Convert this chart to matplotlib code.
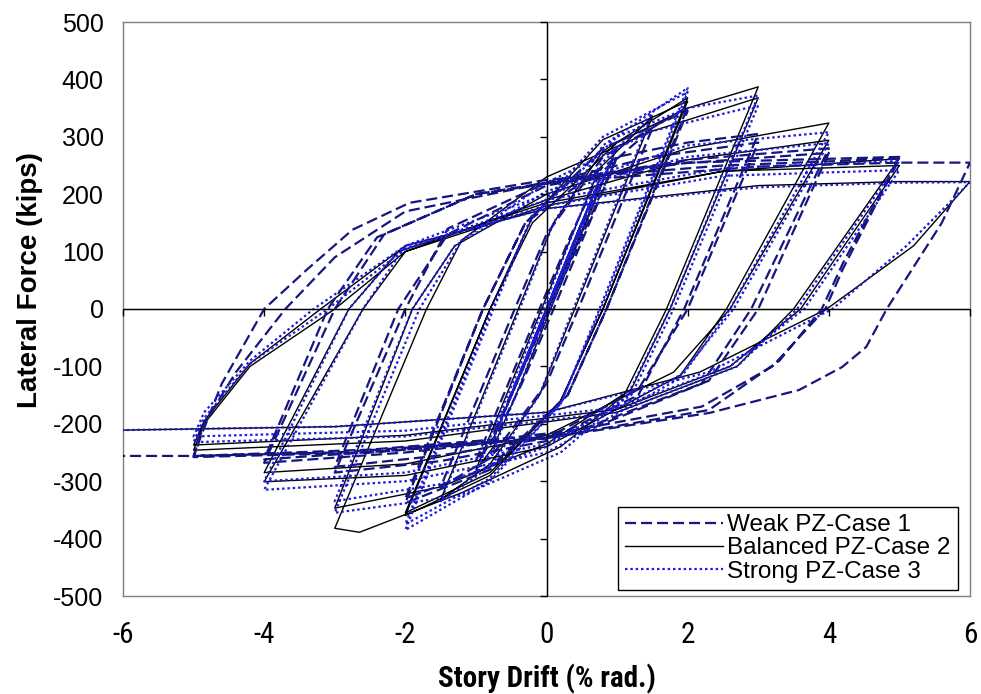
import matplotlib
matplotlib.use("Agg")
import matplotlib.pyplot as plt
from matplotlib import font_manager

# ---------------- data (story drift %, lateral force kips) ----------------
weak_loop = [
    (0, 0), (0.5, 150), (-0.5, -150), (0.75, 220), (-0.75, -220),
    (1.0, 265), (0.1, 0), (-0.35, -130), (-0.75, -230), (-1.0, -265), (-0.1, 0), (0.35, 130), (0.75, 235),
    (1.5, 315), (0.45, 0), (0.0, -130), (-0.8, -260), (-1.5, -310), (-0.45, 0), (0.0, 130), (0.8, 265),
    (2.0, 352), (0.85, 0), (0.3, -150), (-0.8, -280), (-2.0, -338), (-0.9, 0), (-0.3, 150), (0.8, 280),
    (2.0, 345), (0.85, 0), (0.3, -150), (-0.8, -275), (-2.0, -330), (-0.9, 0), (-0.3, 150), (1.0, 265), (2.0, 290),
    (3.0, 305), (1.95, 0), (1.3, -150), (0.0, -230), (-1.5, -265), (-3.0, -285), (-2.0, 0), (-1.4, 140),
    (0.0, 220), (1.5, 265), (3.0, 290), (2.0, 0), (1.3, -140), (0.0, -225), (-1.5, -255), (-3.0, -275),
    (-2.1, 0), (-1.4, 130), (0.0, 215), (2.0, 260),
    (4.0, 280), (2.9, 0), (2.2, -130), (0.5, -215), (-2.0, -250), (-4.0, -268), (-3.0, 0), (-2.3, 130),
    (-1.0, 200), (1.5, 250), (4.0, 272), (3.0, 0), (2.3, -125), (0.5, -210), (-2.0, -245), (-4.0, -262),
    (-3.1, 0), (-2.4, 125), (-1.0, 200), (2.0, 255),
    (5.0, 265), (4.2, 80), (3.9, 0), (3.3, -90), (2.3, -176), (0.0, -225), (-2.5, -250), (-5.0, -258),
    (-4.9, -223), (-4.6, -130), (-4.0, 0), (-3.4, 68), (-2.75, 138), (-1.94, 185), (0.0, 225), (2.5, 250),
    (5.0, 262), (4.2, 70), (3.95, 0), (3.2, -100), (2.2, -170), (0.0, -220), (-2.5, -245), (-5.0, -256),
    (-4.85, -200), (-4.4, -110), (-3.7, 0), (-3.0, 90), (-2.0, 170), (0.0, 220), (3.0, 248), (5.0, 255),
    (6.0, 255), (5.6, 150), (4.82, 0), (4.53, -66), (4.19, -101), (3.58, -141), (2.31, -181), (0.0, -225),
    (-3.0, -250), (-5.0, -256), (-6.0, -256),
]

balanced_loop = [
    (0, 0), (0.5, 150), (-0.5, -150), (0.75, 225), (-0.75, -225),
    (1.0, 282), (0.06, 0), (-0.4, -140), (-0.75, -240), (-1.0, -280), (-0.07, 0), (0.4, 140), (0.75, 245),
    (1.5, 335), (0.4, 0), (-0.1, -150), (-0.8, -270), (-1.5, -332), (-0.4, 0), (0.1, 150), (0.8, 275),
    (2.0, 368), (0.8, 0), (0.2, -160), (-0.8, -290), (-2.0, -360), (-0.8, 0), (-0.2, 160), (0.8, 295),
    (2.0, 362), (0.8, 0), (0.2, -160), (-0.8, -285), (-2.0, -355), (-0.8, 0), (-0.2, 150), (1.0, 290), (2.0, 350),
    (3.0, 387), (1.7, 0), (1.1, -150), (0.2, -240), (-1.2, -320), (-2.65, -389), (-3.0, -382), (-1.7, 0),
    (-1.2, 120), (0.0, 230), (1.5, 310), (3.0, 368), (1.75, 0), (1.2, -140), (0.0, -235), (-1.5, -310),
    (-3.0, -347), (-1.9, 0), (-1.3, 110), (0.0, 200), (2.0, 280),
    (4.0, 324), (2.55, 0), (1.9, -115), (0.0, -240), (-2.0, -290), (-4.0, -301), (-2.6, 0), (-2.0, 100),
    (0.0, 190), (2.0, 260), (4.0, 294), (2.6, 0), (1.8, -110), (0.0, -220), (-2.0, -270), (-4.0, -285),
    (-2.8, 0), (-2.1, 100), (0.0, 185), (2.5, 240),
    (5.0, 262), (3.5, 0), (2.7, -100), (1.0, -180), (-2.0, -230), (-5.0, -246), (-4.85, -200), (-4.2, -100),
    (-3.0, 0), (-2.0, 100), (0.0, 180), (2.5, 240), (5.0, 250), (3.6, 0), (2.6, -100), (1.0, -175),
    (-2.0, -220), (-5.0, -237), (-4.85, -195), (-4.2, -95), (-3.2, 0), (-2.0, 110), (0.0, 175), (3.0, 215),
    (5.0, 222), (6.0, 222), (5.2, 110), (3.97, 0), (2.17, -110), (0.0, -180), (-3.0, -205), (-6.0, -211),
]

strong_loop = [
    (0, 0), (0.5, 150), (-0.5, -150), (0.75, 225), (-0.75, -225),
    (1.0, 285), (0.05, 0), (-0.4, -140), (-0.75, -245), (-1.0, -285), (-0.05, 0), (0.4, 140), (0.75, 250),
    (1.5, 340), (0.38, 0), (-0.1, -150), (-0.8, -275), (-1.5, -335), (-0.38, 0), (0.1, 150), (0.8, 285),
    (2.0, 385), (0.75, 0), (0.2, -165), (-0.8, -300), (-2.0, -385), (-0.75, 0), (-0.2, 165), (0.8, 300),
    (2.0, 378), (0.77, 0), (0.2, -165), (-0.8, -295), (-2.0, -375), (-0.78, 0), (-0.2, 160), (1.0, 300), (2.0, 350),
    (3.0, 372), (1.75, 0), (1.15, -150), (0.2, -250), (-1.2, -325), (-3.0, -355), (-1.8, 0), (-1.2, 120),
    (0.0, 220), (1.5, 310), (3.0, 355), (1.8, 0), (1.2, -150), (0.0, -240), (-1.5, -305), (-3.0, -335),
    (-1.9, 0), (-1.3, 110), (0.0, 205), (2.0, 285),
    (4.0, 308), (2.6, 0), (1.9, -120), (0.0, -250), (-2.0, -300), (-4.0, -315), (-2.6, 0), (-2.0, 110),
    (0.0, 200), (2.0, 265), (4.0, 289), (2.65, 0), (1.9, -115), (0.0, -235), (-2.0, -285), (-4.0, -300),
    (-2.8, 0), (-2.1, 100), (0.0, 190), (2.5, 245),
    (5.0, 258), (3.55, 0), (2.7, -100), (1.0, -180), (-2.0, -222), (-5.0, -232), (-4.85, -190), (-4.2, -95),
    (-3.1, 0), (-2.0, 105), (0.0, 180), (2.5, 232), (5.0, 242), (3.65, 0), (2.6, -100), (1.0, -172),
    (-2.0, -212), (-5.0, -222), (-4.85, -180), (-4.2, -90), (-3.3, 0), (-2.0, 110), (0.0, 175), (3.0, 212),
    (5.0, 220), (6.0, 221), (5.1, 110), (4.05, 0), (2.3, -110), (0.0, -180), (-3.0, -205), (-6.0, -211),
]

series_labels = ["Weak PZ-Case 1", "Balanced PZ-Case 2", "Strong PZ-Case 3"]
x_ticks = [-6, -4, -2, 0, 2, 4, 6]
y_ticks = [-500, -400, -300, -200, -100, 0, 100, 200, 300, 400, 500]
x_label = "Story Drift (% rad.)"
y_label = "Lateral Force (kips)"

# ---------------- fonts ----------------
plt.rcParams["axes.unicode_minus"] = False
available = {f.name for f in font_manager.fontManager.ttflist}
base_font = "Liberation Sans" if "Liberation Sans" in available else "DejaVu Sans"
narrow_font = None
for f in font_manager.fontManager.ttflist:
    if "Narrow" in f.name or "Condensed" in f.name:
        narrow_font = f.name
        if f.name.startswith("Liberation") or "Arial" in f.name:
            break
if narrow_font is None:
    narrow_font = base_font
plt.rcParams["font.family"] = [base_font, "DejaVu Sans"]

# ---------------- figure ----------------
fig = plt.figure(figsize=(9.81, 6.94), dpi=100)
rect = [123 / 981, 1 - 596 / 694, (970 - 123) / 981, (596 - 22) / 694]
ax = fig.add_axes(rect)

ax.set_xlim(-6, 6)
ax.set_ylim(-500, 500)

def xy(loop):
    return [p[0] for p in loop], [p[1] for p in loop]

wx, wy = xy(weak_loop)
bx, by = xy(balanced_loop)
sx, sy = xy(strong_loop)

l_bal, = ax.plot(bx, by, color="black", lw=1.0, zorder=3, label=series_labels[1])
l_weak, = ax.plot(wx, wy, color="#161680", lw=1.6, dashes=(5, 2.2), zorder=4,
                  label=series_labels[0])
l_str, = ax.plot(sx, sy, color="#1c1cd8", lw=1.6, dashes=(1.1, 1.3), zorder=5,
                 label=series_labels[2])

# zero lines
ax.axhline(0, color="black", lw=1.0, zorder=2)
ax.axvline(0, color="black", lw=1.0, zorder=2)

# outer frame, labels only
for s in ax.spines.values():
    s.set_color("#7f7f7f")
    s.set_linewidth(1.0)
ax.set_xticks(x_ticks)
ax.set_yticks(y_ticks)
ax.tick_params(axis="y", length=0, pad=14)
ax.tick_params(axis="x", length=0, pad=18)
for t in ax.get_yticklabels():
    t.set_fontsize(18)
    t.set_family([base_font])
for t in ax.get_xticklabels():
    t.set_fontsize(21)
    t.set_family([narrow_font, base_font])

# overlay axes for tick marks on the zero lines
axc = fig.add_axes(rect, sharex=ax, sharey=ax)
axc.patch.set_visible(False)
for k in ("top", "right"):
    axc.spines[k].set_visible(False)
axc.spines["left"].set_position(("data", 0))
axc.spines["bottom"].set_position(("data", 0))
axc.spines["left"].set_color("black")
axc.spines["bottom"].set_color("black")
axc.tick_params(axis="both", direction="out", length=5, width=1,
                labelleft=False, labelbottom=False, color="black")
axc.set_zorder(ax.get_zorder() + 1)

ax.set_xlabel(x_label, fontsize=21, fontweight="bold", family=[narrow_font, base_font])
ax.xaxis.set_label_coords(0.5, -0.118)
ax.set_ylabel(y_label, fontsize=20, fontweight="bold")
ax.yaxis.set_label_coords(-0.094, 0.55)

leg = axc.legend(handles=[l_weak, l_bal, l_str], loc="lower right",
                 bbox_to_anchor=(0.986, 0.0105), borderaxespad=0, fontsize=17.5,
                 handlelength=4.0, handletextpad=0.2, labelspacing=0.05,
                 borderpad=0.3, fancybox=False, framealpha=1)
leg.get_frame().set_edgecolor("black")
leg.get_frame().set_linewidth(1.0)

fig.savefig("out.png", dpi=100)
